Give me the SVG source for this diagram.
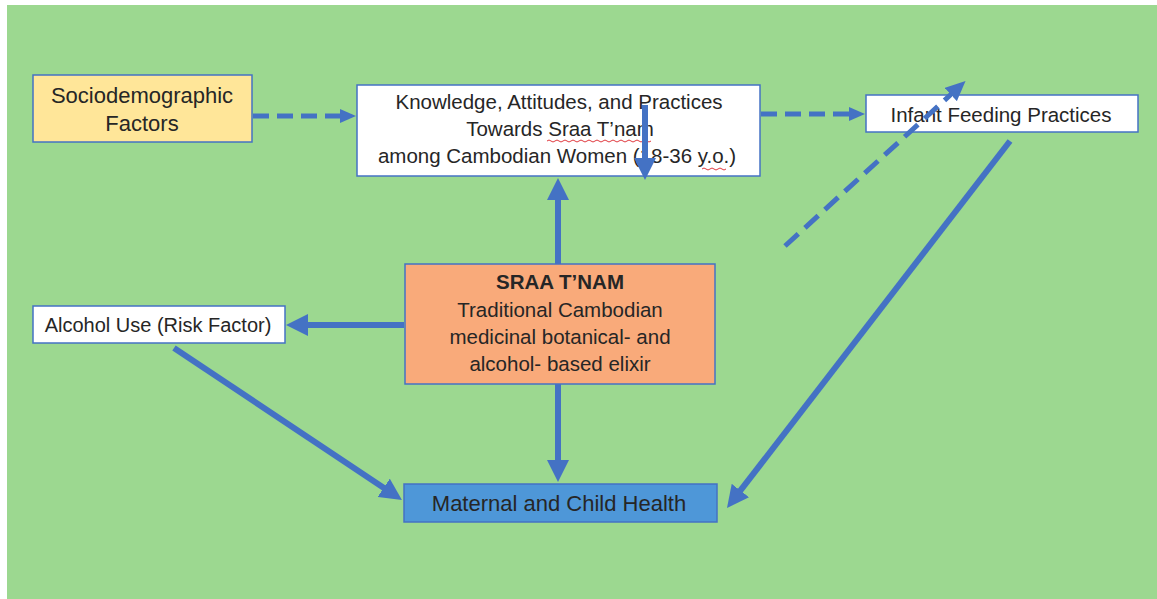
<svg xmlns="http://www.w3.org/2000/svg" width="1157" height="599" viewBox="0 0 1157 599">
<style>
.box{stroke:#4472C4;stroke-width:1.5}
.t{font-family:"Liberation Sans",Arial,sans-serif;fill:#262626;text-anchor:middle}
.c{fill:none;stroke:#4472C4;stroke-width:6}
.d{fill:none;stroke:#4472C4;stroke-width:5;stroke-dasharray:16 8}
.sq{fill:none;stroke:#E0393E;stroke-width:1}
</style>
<defs>
<marker id="ah" markerUnits="userSpaceOnUse" markerWidth="22" markerHeight="22" refX="4" refY="11" orient="auto">
<path d="M0,0 L22,11 L0,22 z" fill="#4472C4"/>
</marker>
<marker id="ahd" markerUnits="userSpaceOnUse" markerWidth="16" markerHeight="14" refX="3" refY="7" orient="auto">
<path d="M0,0 L16,7 L0,14 z" fill="#4472C4"/>
</marker>
<marker id="ahd2" markerUnits="userSpaceOnUse" markerWidth="20" markerHeight="18" refX="3" refY="9" orient="auto">
<path d="M0,0 L20,9 L0,18 z" fill="#4472C4"/>
</marker>
</defs>
<rect x="7" y="5" width="1150" height="594" fill="#9CD890"/>
<g id="socio">
<rect class="box" x="33" y="75" width="219" height="67" fill="#FFE699"/>
<text class="t" x="142" y="103" font-size="22">Sociodemographic</text>
<text class="t" x="142" y="131" font-size="22">Factors</text>
</g>
<g id="kap">
<rect class="box" x="357" y="85" width="403" height="91" fill="#FFFFFF"/>
<text class="t" x="559" y="109" font-size="20.5">Knowledge, Attitudes, and Practices</text>
<text class="t" x="560" y="136" font-size="20.5">Towards Sraa T’nam</text>
<text class="t" x="557" y="163" font-size="20.5">among Cambodian Women (18-36 y.o.)</text>
<path class="sq" d="M547,141 q2,-2 4,0 t4,0 t4,0 t4,0 t4,0 t4,0 t4,0 t4,0 t4,0 t4,0 t4,0 t4,0 t4,0 t4,0 t4,0 t4,0 t4,0 t4,0 t4,0 t4,0 t4,0 t4,0 t4,0 t4,0 t4,0 t4,0"/>
<path class="sq" d="M702,169 q2,-2 4,0 t4,0 t4,0 t4,0 t4,0 t4,0"/>
</g>
<g id="infant">
<rect class="box" x="866" y="95" width="272" height="37" fill="#FFFFFF"/>
<text class="t" x="1001" y="122" font-size="20.5">Infant Feeding Practices</text>
</g>
<g id="alcohol">
<rect class="box" x="33" y="306" width="252" height="37" fill="#FFFFFF"/>
<text class="t" x="158" y="332" font-size="20">Alcohol Use (Risk Factor)</text>
</g>
<g id="sraa">
<rect class="box" x="405" y="264" width="310" height="120" fill="#F9AA7A"/>
<text class="t" x="560" y="289" font-size="20.5" font-weight="bold">SRAA T’NAM</text>
<text class="t" x="560" y="317" font-size="20.5">Traditional Cambodian</text>
<text class="t" x="560" y="344" font-size="20.5">medicinal botanical- and</text>
<text class="t" x="560" y="371" font-size="20.5">alcohol- based elixir</text>
</g>
<g id="mch">
<rect class="box" x="404" y="484" width="313" height="38" fill="#4E97D8"/>
<text class="t" x="559" y="511" font-size="22" fill="#1B2733">Maternal and Child Health</text>
</g>
<g id="connectors">
<line class="d" x1="253" y1="116" x2="343" y2="116" marker-end="url(#ahd)"/>
<line class="d" x1="761" y1="114" x2="852" y2="114" marker-end="url(#ahd)"/>
<line class="d" x1="785" y1="246" x2="953" y2="92.5" marker-end="url(#ahd2)" style="stroke-dasharray:18 9"/>
<line class="c" x1="1010" y1="141" x2="738" y2="493.7" marker-end="url(#ah)"/>
<line class="c" x1="404" y1="325" x2="304" y2="325" marker-end="url(#ah)"/>
<line class="c" x1="174" y1="348" x2="387" y2="490" marker-end="url(#ah)"/>
<line class="c" x1="558" y1="384" x2="558" y2="464" marker-end="url(#ah)"/>
<line class="c" x1="558" y1="264" x2="558" y2="196" marker-end="url(#ah)"/>
<line class="c" x1="645" y1="105" x2="645" y2="162" marker-end="url(#ah)"/>
</g>
</svg>
